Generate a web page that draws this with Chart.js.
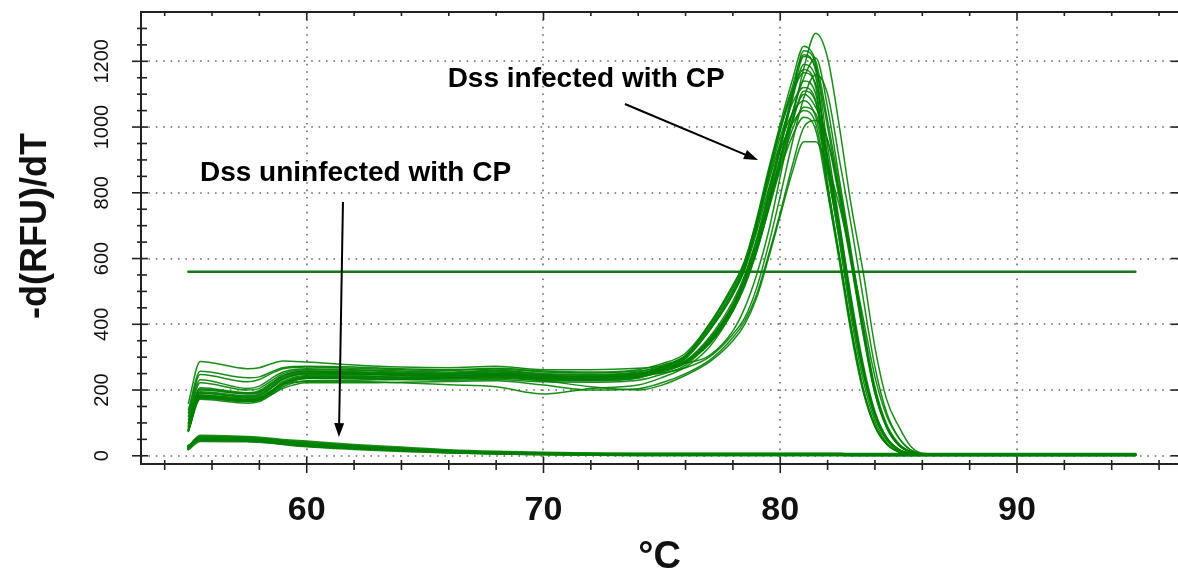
<!DOCTYPE html>
<html>
<head>
<meta charset="utf-8">
<script src="https://cdn.jsdelivr.net/npm/chart.js@4.4.0/dist/chart.umd.min.js"></script>
<style>
  html, body { margin: 0; padding: 0; background: #fff; }
</style>
</head>
<body>
<canvas id="meltChart" width="1178" height="577"></canvas>
<script>
// temperature points (°C) shared by every melt curve
const temps = [55, 55.5, 57.5, 58, 58.5, 59, 60, 62, 64, 66, 68, 70, 72, 74, 75, 76,
  77, 78, 78.5, 79, 79.5, 80, 80.5, 81, 81.5, 82, 82.5, 83, 83.5, 84, 84.5, 85, 85.5, 86, 88, 95];

// Dss infected with CP, -d(RFU)/dT
const infected = [
  [160, 287, 265, 268, 280, 288, 285, 276, 270, 268, 272, 262, 262, 266, 272, 282, 305, 380, 450, 550, 680, 850, 1020, 1180, 1285, 1210, 1000, 760, 560, 330, 170, 90, 30, 8, 3, 2],
  [140, 257, 237, 240, 255, 268, 272, 270, 265, 262, 266, 258, 255, 262, 280, 312, 400, 520, 590, 720, 870, 1010, 1140, 1246, 1200, 1020, 820, 610, 390, 200, 90, 35, 12, 5, 2, 2],
  [130, 247, 225, 232, 250, 265, 270, 266, 262, 260, 264, 255, 252, 258, 268, 290, 360, 470, 550, 660, 800, 950, 1100, 1232, 1190, 940, 710, 480, 280, 135, 55, 20, 7, 4, 2, 2],
  [120, 231, 205, 212, 235, 255, 265, 262, 258, 255, 260, 250, 248, 255, 275, 305, 390, 500, 575, 700, 850, 990, 1120, 1220, 1170, 880, 650, 420, 230, 105, 40, 14, 6, 3, 2, 2],
  [110, 222, 200, 205, 228, 250, 262, 260, 255, 252, 258, 248, 245, 252, 263, 285, 340, 440, 520, 620, 750, 900, 1040, 1150, 1210, 1060, 840, 620, 400, 210, 95, 38, 13, 5, 2, 2],
  [100, 207, 192, 198, 222, 245, 258, 256, 252, 250, 255, 245, 242, 250, 262, 288, 355, 460, 540, 645, 780, 930, 1080, 1190, 1150, 900, 690, 460, 265, 125, 52, 19, 7, 4, 2, 2],
  [95, 200, 188, 192, 215, 240, 255, 252, 248, 246, 250, 242, 240, 248, 272, 305, 395, 510, 585, 710, 860, 1000, 1110, 1175, 1120, 830, 610, 390, 205, 92, 36, 12, 5, 3, 2, 2],
  [90, 195, 183, 188, 210, 236, 252, 250, 246, 244, 248, 240, 238, 244, 252, 268, 300, 370, 420, 510, 640, 790, 950, 1090, 1160, 1100, 900, 700, 480, 270, 130, 55, 18, 6, 2, 2],
  [85, 190, 178, 182, 205, 232, 248, 248, 244, 242, 246, 238, 236, 244, 258, 284, 345, 450, 530, 635, 770, 910, 1040, 1140, 1100, 880, 680, 450, 260, 120, 50, 18, 7, 4, 2, 2],
  [80, 185, 172, 176, 198, 226, 244, 244, 240, 240, 244, 236, 234, 242, 268, 300, 385, 500, 580, 700, 840, 970, 1070, 1120, 1080, 810, 590, 370, 195, 88, 34, 12, 5, 3, 2, 2],
  [78, 180, 168, 172, 193, 220, 240, 240, 238, 238, 242, 234, 232, 240, 255, 282, 350, 455, 535, 640, 770, 900, 1020, 1100, 1060, 960, 780, 580, 370, 190, 85, 32, 11, 5, 2, 2],
  [75, 177, 165, 170, 190, 215, 235, 236, 234, 234, 238, 230, 228, 236, 262, 296, 380, 490, 570, 690, 830, 950, 1040, 1080, 1030, 860, 660, 440, 250, 118, 48, 17, 6, 3, 2, 2],
  [75, 172, 160, 165, 185, 210, 228, 230, 232, 230, 232, 225, 224, 230, 248, 276, 345, 450, 525, 630, 760, 880, 990, 1060, 1040, 890, 690, 460, 265, 125, 50, 18, 7, 4, 2, 2],
  [80, 185, 175, 178, 198, 218, 226, 226, 222, 216, 210, 188, 205, 215, 238, 270, 330, 440, 515, 620, 745, 870, 970, 1030, 990, 800, 600, 380, 200, 90, 35, 12, 5, 3, 2, 2],
  [74, 175, 165, 168, 186, 205, 222, 222, 224, 226, 228, 215, 200, 204, 222, 250, 290, 360, 410, 490, 610, 740, 880, 1000, 1020, 960, 800, 600, 385, 195, 88, 34, 12, 5, 2, 2],
  [76, 182, 170, 175, 195, 220, 238, 234, 232, 234, 236, 228, 210, 200, 215, 245, 285, 350, 400, 480, 600, 730, 860, 955, 955, 880, 760, 600, 420, 240, 120, 55, 18, 6, 2, 2],
  [98, 203, 190, 195, 218, 243, 257, 254, 250, 248, 252, 244, 241, 249, 262, 287, 350, 460, 545, 655, 790, 940, 1090, 1215, 1180, 1000, 800, 590, 375, 190, 85, 32, 11, 5, 2, 2],
  [88, 192, 180, 184, 207, 234, 250, 249, 245, 243, 247, 239, 237, 245, 270, 304, 400, 515, 595, 715, 860, 990, 1100, 1165, 1130, 910, 700, 470, 270, 130, 55, 20, 7, 4, 2, 2],
  [79, 182, 170, 174, 195, 222, 242, 241, 239, 239, 243, 235, 233, 241, 256, 283, 340, 445, 525, 625, 755, 890, 1010, 1110, 1075, 900, 690, 465, 268, 128, 53, 19, 7, 4, 2, 2],
  [76, 178, 166, 171, 191, 217, 236, 237, 235, 235, 239, 231, 229, 237, 263, 297, 380, 490, 565, 680, 810, 930, 1010, 1050, 1010, 820, 605, 385, 205, 92, 36, 12, 5, 3, 2, 2]
];

// Dss uninfected with CP
const uninfected = [
  [24, 61, 57, 55, 52, 48, 43, 33, 25, 17, 12, 9, 7, 6, 6, 6, 6, 6, 6, 6, 6, 6, 6, 6, 6, 6, 6, 5, 5, 5, 5, 5, 5, 5, 5, 5],
  [28, 56, 53, 51, 48, 44, 38, 29, 21, 14, 10, 7, 6, 5, 5, 5, 5, 5, 5, 5, 5, 5, 5, 5, 5, 5, 5, 4, 4, 4, 4, 4, 4, 4, 4, 4],
  [22, 52, 49, 47, 44, 40, 34, 26, 18, 12, 8, 6, 5, 4, 4, 4, 4, 4, 4, 4, 4, 4, 4, 4, 4, 4, 4, 3, 3, 3, 3, 3, 3, 3, 3, 3],
  [30, 48, 46, 44, 41, 37, 31, 23, 16, 11, 7, 5, 4, 3, 3, 3, 3, 3, 3, 3, 3, 3, 3, 3, 3, 3, 3, 2, 2, 2, 2, 2, 2, 2, 2, 2],
  [20, 45, 44, 43, 40, 36, 29, 21, 15, 10, 7, 5, 3, 2, 2, 2, 2, 2, 2, 2, 2, 2, 2, 2, 2, 2, 2, 2, 2, 2, 2, 2, 2, 2, 2, 2]
];

// threshold line
const thresholdTemps = [55, 95];
const thresholdValue = 560;

// ticks
const xMajor = [60, 70, 80, 90];
const xMinor = [54, 56, 58, 62, 64, 66, 68, 72, 74, 76, 78, 82, 84, 86, 88, 92, 94, 96];
const yMajor = [0, 200, 400, 600, 800, 1000, 1200];
const yMinor = [50, 100, 150, 250, 300, 350, 450, 500, 550, 650, 700, 750, 850, 900, 950, 1050, 1100, 1150, 1250, 1300];

const FONT = '"Liberation Sans", Arial, sans-serif';
const GREEN = 'rgba(0,128,0,0.9)';

// annotation labels + arrows (in data units)
const notes = [
  { text: 'Dss infected with CP', x: 71.8, y: 1146, from: [73.44, 1070], to: [79.06, 900] },
  { text: 'Dss uninfected with CP', x: 62.06, y: 858, from: [61.53, 772], to: [61.36, 57] }
];

function seg(ctx, x1, y1, x2, y2) {
  ctx.beginPath();
  ctx.moveTo(x1, y1);
  ctx.lineTo(x2, y2);
  ctx.stroke();
}

const frame = {
  id: 'frame',
  beforeDatasetsDraw(chart) {
    const { ctx, chartArea: a, scales: { x, y } } = chart;
    ctx.save();
    ctx.strokeStyle = '#6a6a6a';
    ctx.lineWidth = 1.6;
    ctx.setLineDash([1.6, 5.8]);
    xMajor.forEach(v => {
      const px = Math.round(x.getPixelForValue(v));
      seg(ctx, px, a.top, px, a.bottom);
    });
    yMajor.forEach(v => {
      const py = Math.round(y.getPixelForValue(v));
      seg(ctx, a.left, py, a.right, py);
    });
    ctx.restore();
  },
  afterDatasetsDraw(chart) {
    const { ctx, chartArea: a, scales: { x, y } } = chart;
    ctx.save();
    ctx.strokeStyle = '#222';
    ctx.fillStyle = '#111';
    ctx.lineWidth = 2;
    // box
    seg(ctx, a.left, a.top, a.right, a.top);
    seg(ctx, a.left, a.top - 1, a.left, a.bottom + 1);
    seg(ctx, a.left - 1, a.bottom, a.right, a.bottom);
    // x ticks
    ctx.lineWidth = 1.6;
    xMajor.forEach(v => {
      const px = x.getPixelForValue(v);
      seg(ctx, px, a.bottom - 7, px, a.bottom + 9);
      seg(ctx, px, a.top, px, a.top + 8);
    });
    xMinor.forEach(v => {
      const px = x.getPixelForValue(v);
      seg(ctx, px, a.bottom - 4, px, a.bottom + 6);
      seg(ctx, px, a.top, px, a.top + 4);
    });
    // y ticks
    yMajor.forEach(v => {
      const py = y.getPixelForValue(v);
      seg(ctx, a.left - 9, py, a.left + 7, py);
      seg(ctx, a.right - 7, py, a.right, py);
    });
    yMinor.forEach(v => {
      const py = y.getPixelForValue(v);
      seg(ctx, a.left - 4, py, a.left + 6, py);
    });

    // tick labels
    ctx.textAlign = 'center';
    ctx.textBaseline = 'middle';
    ctx.font = 'bold 34px ' + FONT;
    xMajor.forEach(v => ctx.fillText(String(v), x.getPixelForValue(v), 511));
    ctx.font = '20px ' + FONT;
    yMajor.forEach(v => {
      ctx.save();
      ctx.translate(102, y.getPixelForValue(v));
      ctx.rotate(-Math.PI / 2);
      ctx.fillText(String(v), 0, 0);
      ctx.restore();
    });

    // axis titles
    ctx.font = 'bold 38px ' + FONT;
    ctx.fillText('°C', (a.left + a.right) / 2, 558);
    ctx.save();
    ctx.translate(36, 226);
    ctx.rotate(-Math.PI / 2);
    ctx.font = 'bold 36px ' + FONT;
    ctx.fillText('-d(RFU)/dT', 0, 0);
    ctx.restore();

    // annotations
    ctx.font = 'bold 28px ' + FONT;
    ctx.strokeStyle = '#000';
    ctx.fillStyle = '#000';
    notes.forEach(n => {
      ctx.fillText(n.text, x.getPixelForValue(n.x), y.getPixelForValue(n.y));
      const x1 = x.getPixelForValue(n.from[0]), y1 = y.getPixelForValue(n.from[1]);
      const x2 = x.getPixelForValue(n.to[0]), y2 = y.getPixelForValue(n.to[1]);
      const ang = Math.atan2(y2 - y1, x2 - x1);
      ctx.lineWidth = 2;
      seg(ctx, x1, y1, x2 - 10 * Math.cos(ang), y2 - 10 * Math.sin(ang));
      ctx.beginPath();
      ctx.moveTo(x2, y2);
      ctx.lineTo(x2 - 14 * Math.cos(ang) + 5 * Math.sin(ang), y2 - 14 * Math.sin(ang) - 5 * Math.cos(ang));
      ctx.lineTo(x2 - 14 * Math.cos(ang) - 5 * Math.sin(ang), y2 - 14 * Math.sin(ang) + 5 * Math.cos(ang));
      ctx.closePath();
      ctx.fill();
    });
    ctx.restore();
  }
};

const toPoints = row => temps.map((t, i) => ({ x: t, y: row[i] }));

const datasets = [];
uninfected.forEach(row => datasets.push({
  data: toPoints(row), borderColor: GREEN, borderWidth: 2.6
}));
infected.forEach(row => datasets.push({
  data: toPoints(row), borderColor: GREEN, borderWidth: 1.5
}));
datasets.push({
  data: thresholdTemps.map(t => ({ x: t, y: thresholdValue })),
  borderColor: 'rgb(20,120,20)', borderWidth: 2.4, cubicInterpolationMode: 'default', tension: 0
});

new Chart(document.getElementById('meltChart'), {
  type: 'line',
  data: { datasets },
  options: {
    responsive: false,
    animation: false,
    devicePixelRatio: 1,
    layout: { padding: { left: 141, top: 12, right: 0, bottom: 113 } },
    elements: {
      point: { radius: 0 },
      line: { cubicInterpolationMode: 'monotone', borderCapStyle: 'round', borderJoinStyle: 'round' }
    },
    plugins: { legend: { display: false }, tooltip: { enabled: false } },
    scales: {
      x: { type: 'linear', min: 53, max: 96.8, display: false },
      y: { type: 'linear', min: -25, max: 1350, display: false }
    }
  },
  plugins: [frame]
});
</script>
</body>
</html>
